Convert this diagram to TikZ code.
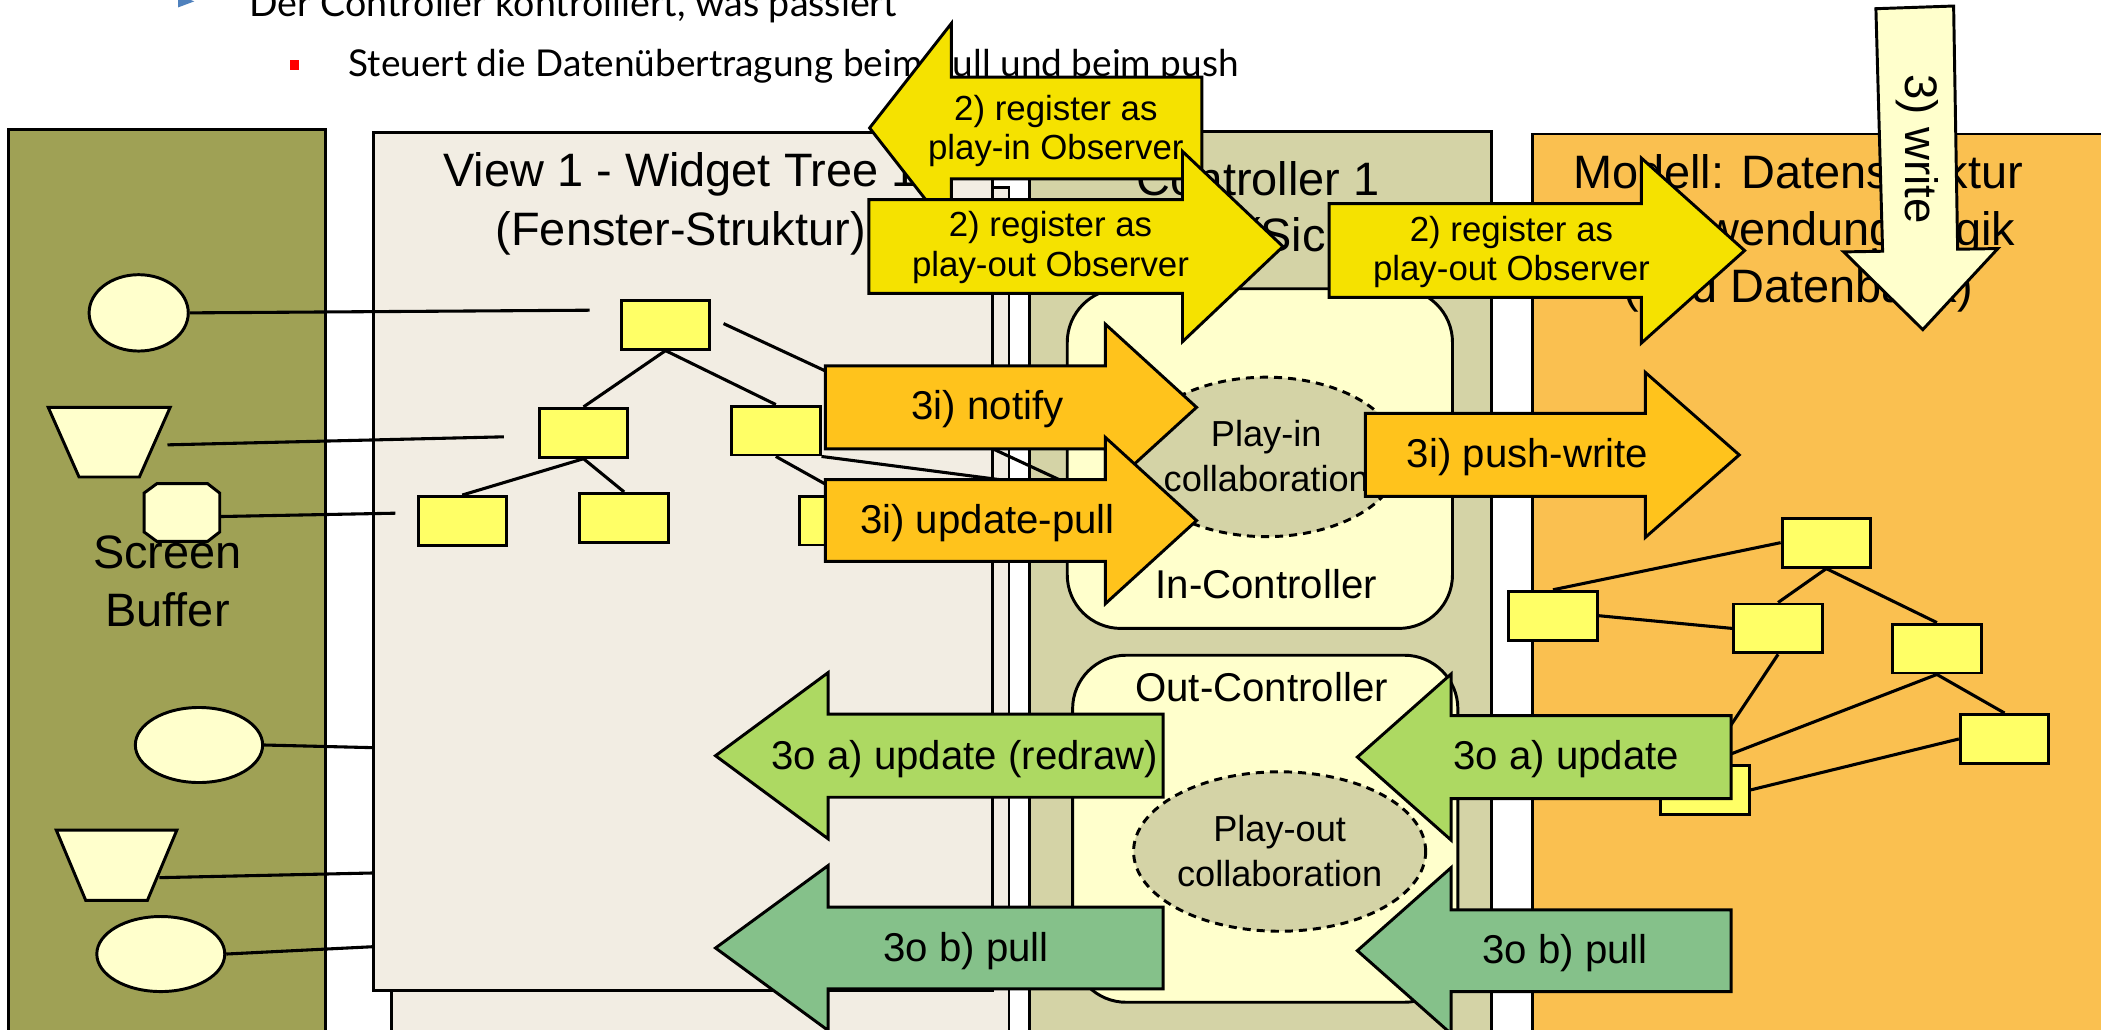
\documentclass[tikz,border=0pt]{standalone}
\usepackage{fontspec}
\setmainfont{Liberation Sans}
\newfontfamily\slidefont{Lato}
\usetikzlibrary{shapes.geometric}
\definecolor{screenc}{RGB}{159,161,85}
\definecolor{viewc}{RGB}{242,237,227}
\definecolor{ctrlc}{RGB}{212,211,166}
\definecolor{modelc}{RGB}{250,192,80}
\definecolor{lightyel}{RGB}{255,255,204}
\definecolor{treeyel}{RGB}{255,255,102}
\definecolor{regyel}{RGB}{245,226,0}
\definecolor{orangec}{RGB}{255,195,28}
\definecolor{lgreen}{RGB}{173,217,98}
\definecolor{dgreen}{RGB}{133,193,138}
\definecolor{bulletblue}{RGB}{79,129,189}
% block arrow: style, body start x, head base x, tip x, centre y, body half height, head half height
\newcommand{\blockarrow}[7]{\draw[#1] ({#2},{#5-#6}) -- ({#3},{#5-#6}) -- ({#3},{#5-#7}) -- ({#4},{#5}) -- ({#3},{#5+#7}) -- ({#3},{#5+#6}) -- ({#2},{#5+#6}) -- cycle;}
\begin{document}
\begin{tikzpicture}[x=1pt,y=-1pt,
  panel/.style={draw=black,line width=2.2pt},
  ttl/.style={font=\fontsize{35}{42}\selectfont,inner sep=0pt,anchor=base},
  lbl/.style={font=\fontsize{30}{36}\selectfont,inner sep=0pt,anchor=base},
  reglbl/.style={font=\fontsize{26}{30}\selectfont,inner sep=0pt,anchor=base},
  collbl/.style={font=\fontsize{27}{32}\selectfont,inner sep=0pt,anchor=base},
  slide/.style={font=\slidefont\fontsize{28}{34}\selectfont,inner sep=0pt,anchor=base west},
  treebox/.style={draw=black,line width=2.2pt,fill=treeyel,minimum width=66pt,minimum height=36.5pt,inner sep=0pt},
  scrshape/.style={draw=black,line width=2.2pt,fill=lightyel},
  screll/.style={scrshape,ellipse,inner sep=0pt},
  link/.style={draw=black,line width=2.3pt},
  ctrlbox/.style={draw=black,line width=2.2pt,fill=lightyel,rounded corners=40pt,inner sep=0pt},
  collab/.style={draw=black,line width=2.2pt,dash pattern=on 6pt off 4.5pt,fill=ctrlc,ellipse,inner sep=0pt},
  regarrow/.style={draw=black,line width=2.2pt,fill=regyel},
  inarrow/.style={draw=black,line width=2.2pt,fill=orangec},
  updarrow/.style={draw=black,line width=2.2pt,fill=lgreen},
  pullarrow/.style={draw=black,line width=2.2pt,fill=dgreen},
  writearrow/.style={draw=black,line width=2.2pt,fill=lightyel}]
\useasboundingbox (0,0) rectangle (1568,768);
\clip (0,0) rectangle (1568,768);
\fill[white] (0,0) rectangle (1568,768);

% slide text
\fill[bulletblue] (133,-3.5) -- (145,1) -- (133,5.5) -- cycle;
\node[slide] (line1) at (186,12.5) {Der Controller kontrolliert, was passiert};
\fill[red] (216.5,44.8) rectangle (222.8,52.2);
\node[slide,font=\slidefont\fontsize{27.6}{34}\selectfont] (line2) at (260,57) {Steuert die Datenübertragung beim pull und beim push};

% panels
\draw[panel,fill=screenc] (6,97) rectangle (243,800);
\draw[panel,fill=viewc] (292,140) rectangle (753,800);
\draw[panel,fill=viewc] (279,99) rectangle (741,739);
\draw[panel,fill=ctrlc] (768,98) rectangle (1113,800);
\draw[panel,fill=modelc] (1144,100) rectangle (1600,800);

% titles
\node[ttl] (vt1) at (508,139.5) {View 1 - Widget Tree 1};
\node[ttl] (vt2) at (508,183) {(Fenster-Struktur)};
\node[ttl] (ct1) at (939,146) {Controller 1};
\node[ttl,anchor=base west] (ct2) at (929,188) {(Sicht)};
\node[ttl] (mt1) at (1342,140.6) {Modell: Datenstruktur};
\node[ttl] (mt2) at (1333,183) {und Anwendungslogik};
\node[ttl] (mt3) at (1342,225.5) {(und Datenbank)};
\node[ttl] (st1) at (125,424) {Screen};
\node[ttl] (st2) at (125,467.7) {Buffer};

% screen buffer shapes
\node[screll,minimum width=74pt,minimum height=57pt] (sb1) at (103.5,233.5) {};
\draw[scrshape] (36,304) -- (127,304) -- (104,356) -- (59,356) -- cycle;
\coordinate (sb2) at (125,332);
\draw[scrshape] (117,361) -- (155,361) -- (164,368) -- (164,397) -- (155,404) -- (117,404) -- (107.5,397) -- (107.5,368) -- cycle;
\coordinate (sb3) at (164,385.5);
\node[screll,minimum width=95pt,minimum height=56pt] (sb4) at (148.5,556) {};
\draw[scrshape] (42,619.5) -- (132,619.5) -- (110,672) -- (64,672) -- cycle;
\coordinate (sb5) at (119,655);
\node[screll,minimum width=95.5pt,minimum height=56pt] (sb6) at (120,712) {};

\coordinate (e1) at (440,231.5);
\coordinate (e2) at (376,326);
\coordinate (e3) at (295,383);
\coordinate (e4) at (279,558);
\coordinate (e5) at (279,651.5);
\coordinate (e6) at (279,706.5);
\draw[link] (sb1.east) -- (e1);
\draw[link] (sb2) -- (e2);
\draw[link] (sb3) -- (e3);
\draw[link] (sb4.east) -- (e4);
\draw[link] (sb5) -- (e5);
\draw[link] (sb6.east) -- (e6);

% controller internals
\node[ctrlbox,minimum width=287.5pt,minimum height=253.5pt] (inctrl) at (940.25,342.25) {};
\node[lbl] (inctrltxt) at (945,446.5) {In-Controller};
\node[collab,minimum width=200pt,minimum height=119pt] (playin) at (945,341) {};
\node[collbl] (pin1) at (945,333.4) {Play-in};
\node[collbl] (pin2) at (945,367) {collaboration};
\node[ctrlbox,minimum width=287.5pt,minimum height=259pt] (outctrl) at (944.25,618.5) {};
\node[lbl] (outctrltxt) at (941.5,523.6) {Out-Controller};
\node[collab,minimum width=218pt,minimum height=119pt] (playout) at (955,635.5) {};
\node[collbl] (pout1) at (955,628) {Play-out};
\node[collbl] (pout2) at (955,661.7) {collaboration};

% view widget tree
\coordinate (rs) at (540,241.5);
\coordinate (re) at (797,361);
\coordinate (me) at (800,365);
\node[treebox] (vr) at (496.7,242.3) {};
\node[treebox] (vl) at (435.5,323) {};
\node[treebox] (vm) at (579,321.3) {};
\node[treebox] (vll) at (345,388.8) {};
\node[treebox] (vlr) at (465.8,386.5) {};
\node[treebox] (vmr) at (630,388.5) {};
\draw[link] (vr.south) -- (vl.north);
\draw[link] (vr.south) -- (vm.north);
\draw[link] (vl.south) -- (vll.north);
\draw[link] (vl.south) -- (vlr.north);
\draw[link] (vm.south) -- (vmr.north);
\draw[link] (rs) -- (re);
\draw[link] (vm.south east) -- (me);

% model tree
\node[treebox] (m1) at (1363,405) {};
\node[treebox] (m2) at (1159,459.5) {};
\node[treebox] (m3) at (1327,469) {};
\node[treebox] (m4) at (1445.5,484) {};
\node[treebox] (m5) at (1496,551.5) {};
\node[treebox] (m6) at (1272.5,589.5) {};
\draw[link] (m2.north) -- (m1.west);
\draw[link] (m2.east) -- (m3.west);
\draw[link] (m1.south) -- (m3.north);
\draw[link] (m1.south) -- (m4.north);
\draw[link] (m3.south) -- (m6.north);
\draw[link] (m4.south) -- (m6.north);
\draw[link] (m4.south) -- (m5.north);
\draw[link] (m5.west) -- (m6.east);
% boxes again over the line ends
\node[treebox] at (m1) {};
\node[treebox] at (m2) {};
\node[treebox] at (m3) {};
\node[treebox] at (m4) {};
\node[treebox] at (m5) {};
\node[treebox] at (m6) {};

% register arrows
\blockarrow{regarrow}{897}{710}{649}{95.5}{38}{78}
\node[reglbl] (reg1a) at (788,89.6) {2) register as};
\node[reglbl] (reg1b) at (788,119.4) {play-in Observer};
\blockarrow{regarrow}{648.5}{882.5}{957.5}{184}{35}{71}
\node[reglbl] (reg2a) at (784,176.6) {2) register as};
\node[reglbl] (reg2b) at (784,206.5) {play-out Observer};
\blockarrow{regarrow}{992}{1225}{1302}{187}{35}{69}
\node[reglbl] (reg3a) at (1128,180.4) {2) register as};
\node[reglbl] (reg3b) at (1128,209.5) {play-out Observer};

% play-in arrows
\blockarrow{inarrow}{616}{825}{893}{304}{31}{62}
\node[lbl] (notify) at (737,313.4) {3i) notify};
\blockarrow{inarrow}{616}{825}{893}{388.5}{30.5}{62}
\node[lbl] (updpull) at (737,398) {3i) update-pull};
\blockarrow{inarrow}{1019}{1228}{1298}{339.5}{31}{61.5}
\node[lbl] (pushw) at (1140,348.7) {3i) push-write};

% play-out arrows
\blockarrow{updarrow}{868}{618}{534}{564}{31}{62}
\node[lbl] (redraw) at (720,574.6) {3o a) update (redraw)};
\blockarrow{pullarrow}{868}{618}{534}{707.5}{30.5}{61.5}
\node[lbl] (pull1) at (721,717.7) {3o b) pull};
\blockarrow{updarrow}{1292}{1083}{1013}{565}{31}{62}
\node[lbl] (upd2) at (1169,574) {3o a) update};
\blockarrow{pullarrow}{1292}{1083}{1013}{709.5}{30.5}{62}
\node[lbl] (pull2) at (1168,718.7) {3o b) pull};

% write arrow
\draw[writearrow] (1400,6.5) -- (1458,4.5) -- (1461,186) -- (1491,185.5) -- (1435,246) -- (1376,188) -- (1405,187.5) -- cycle;
\node[font=\fontsize{34}{40}\selectfont,inner sep=0pt,rotate=-90] (write) at (1431,111) {3) write};
\end{tikzpicture}
\end{document}
